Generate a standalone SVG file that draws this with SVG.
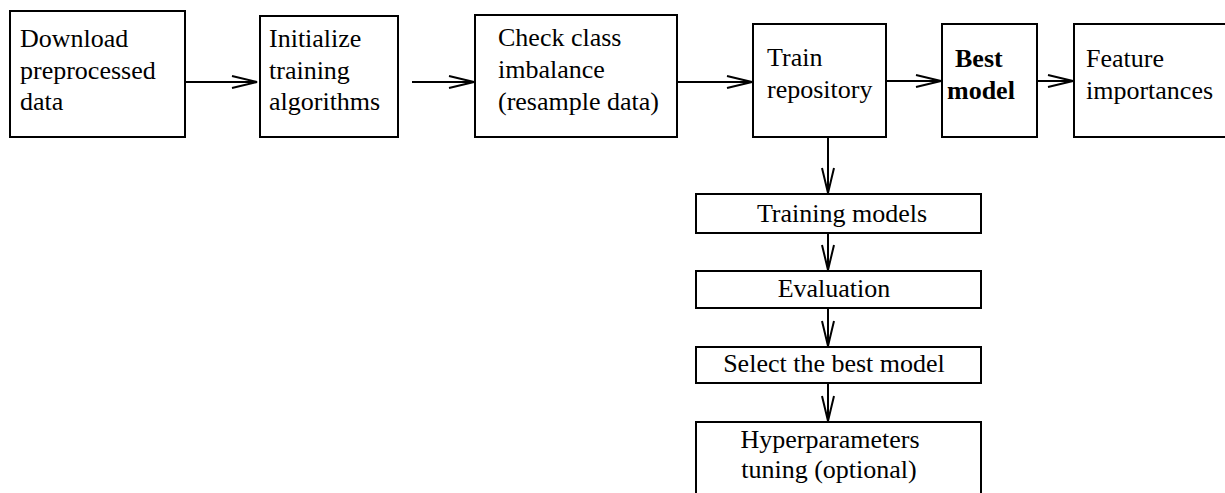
<svg xmlns="http://www.w3.org/2000/svg" width="1225" height="493" viewBox="0 0 1225 493">
<style>
.box{fill:#fff;stroke:#000;stroke-width:2}
.t{font-family:"Liberation Serif","Times New Roman",serif;font-size:26px;fill:#000}
.b{font-weight:bold}
.c{text-anchor:middle}
.ln{fill:none;stroke:#000;stroke-width:2}
</style>
<defs>
<marker id="ah" markerUnits="userSpaceOnUse" markerWidth="30" markerHeight="16" refX="0" refY="0" viewBox="-27 -8 30 16" orient="auto" overflow="visible">
<path d="M-25,-6 L0,0 L-25,6" fill="none" stroke="#000" stroke-width="2"/>
</marker>
</defs>
<rect width="1225" height="493" fill="#fff"/>
<g id="connectors">
<line class="ln" x1="185" y1="82" x2="257" y2="82" marker-end="url(#ah)"/>
<line class="ln" x1="412" y1="82" x2="474" y2="82" marker-end="url(#ah)"/>
<line class="ln" x1="677" y1="82" x2="752" y2="82" marker-end="url(#ah)"/>
<line class="ln" x1="886" y1="81" x2="941" y2="81" marker-end="url(#ah)"/>
<line class="ln" x1="1037" y1="81" x2="1073" y2="81" marker-end="url(#ah)"/>
<line class="ln" x1="828" y1="137" x2="828" y2="193" marker-end="url(#ah)"/>
<line class="ln" x1="828" y1="233" x2="828" y2="270" marker-end="url(#ah)"/>
<line class="ln" x1="828" y1="308" x2="828" y2="346" marker-end="url(#ah)"/>
<line class="ln" x1="828" y1="383" x2="828" y2="421" marker-end="url(#ah)"/>
</g>
<g id="download">
<rect class="box" x="10" y="11" width="175" height="126"/>
<text class="t" x="20" y="47">Download</text>
<text class="t" x="20" y="79">preprocessed</text>
<text class="t" x="20" y="110">data</text>
</g>
<g id="initialize">
<rect class="box" x="260" y="16" width="138" height="121"/>
<text class="t" x="269" y="47">Initialize</text>
<text class="t" x="269" y="79">training</text>
<text class="t" x="269" y="110">algorithms</text>
</g>
<g id="imbalance">
<rect class="box" x="475" y="15" width="202" height="122"/>
<text class="t" x="498" y="46">Check class</text>
<text class="t" x="498" y="78">imbalance</text>
<text class="t" x="498" y="110">(resample data)</text>
</g>
<g id="train">
<rect class="box" x="753" y="24" width="133" height="113"/>
<text class="t" x="767" y="66">Train</text>
<text class="t" x="767" y="98">repository</text>
</g>
<g id="best">
<rect class="box" x="942" y="24" width="95" height="113"/>
<text class="t b" x="955" y="67">Best</text>
<text class="t b" x="947" y="99">model</text>
</g>
<g id="feature">
<rect class="box" x="1074" y="24" width="160" height="113"/>
<text class="t" x="1086" y="67">Feature</text>
<text class="t" x="1086" y="99">importances</text>
</g>
<g id="training-models">
<rect class="box" x="696" y="194" width="285" height="39"/>
<text class="t c" x="842" y="222">Training models</text>
</g>
<g id="evaluation">
<rect class="box" x="696" y="271" width="285" height="37"/>
<text class="t c" x="834" y="297">Evaluation</text>
</g>
<g id="select">
<rect class="box" x="696" y="347" width="285" height="36"/>
<text class="t c" x="834" y="372">Select the best model</text>
</g>
<g id="hyper">
<rect class="box" x="696" y="422" width="285" height="90"/>
<text class="t c" x="830" y="448">Hyperparameters</text>
<text class="t c" x="829" y="478">tuning (optional)</text>
</g>
</svg>
